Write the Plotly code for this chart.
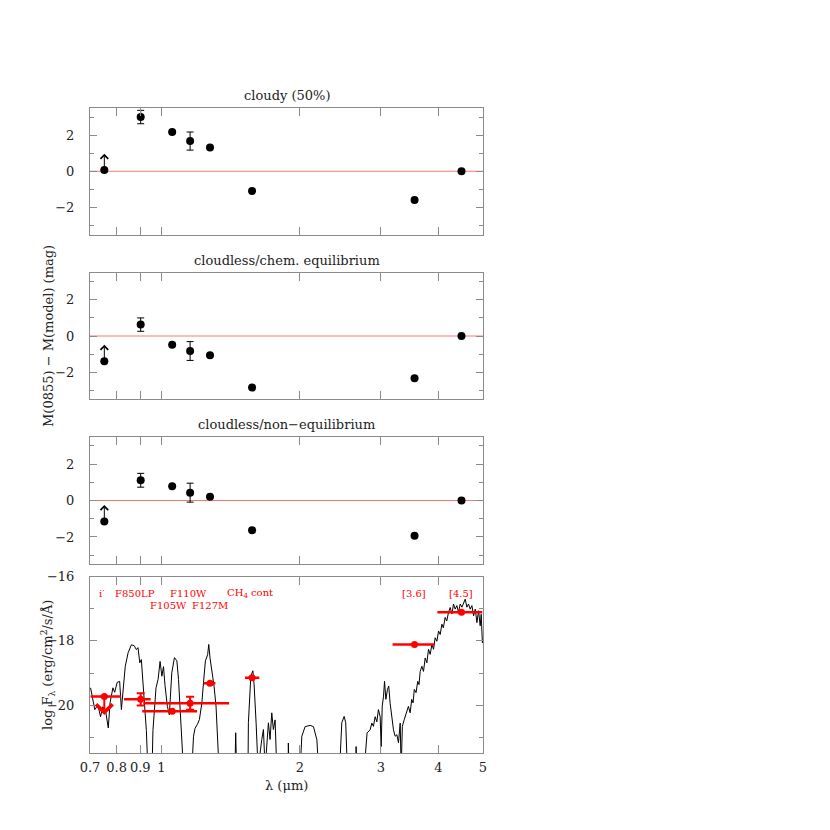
import numpy as np
import plotly.graph_objects as go

# photometric bands
bands = ["i'", "F850LP", "F105W", "F110W", "F127M", "CH4 cont", "[3.6]", "[4.5]"]
wave = [0.752, 0.902, 1.056, 1.155, 1.276, 1.575, 3.55, 4.49]
band_lo = [0.702, 0.830, 0.909, 0.914, 1.238, 1.520, 3.18, 3.98]
band_hi = [0.818, 0.948, 1.196, 1.404, 1.311, 1.633, 3.92, 4.98]

# M(0855) - M(model) residuals, first band is a limit
cloudy = [0.07, 3.00, 2.17, 1.67, 1.31, -1.09, -1.59, 0.0]
cloudy_err = [0, 0.37, 0, 0.50, 0, 0, 0, 0]
chem = [-1.39, 0.63, -0.48, -0.83, -1.06, -2.85, -2.33, 0.0]
chem_err = [0, 0.37, 0, 0.52, 0, 0, 0, 0]
noneq = [-1.15, 1.11, 0.78, 0.43, 0.20, -1.63, -1.93, 0.0]
noneq_err = [0, 0.38, 0, 0.52, 0, 0, 0, 0]

# observed fluxes (log erg/cm2/s/A)
obs_logf = [-19.73, -19.82, -20.19, -19.94, -19.32, -19.15, -18.11, -17.11]
obs_err = [0, 0.19, 0, 0.20, 0, 0, 0, 0]

# model spectrum
spec_wave = [0.702, 0.717, 0.728, 0.738, 0.746, 0.758, 0.767, 0.774, 0.785, 0.792,
             0.802, 0.812, 0.819, 0.827, 0.835, 0.847, 0.861, 0.873, 0.883, 0.890,
             0.898, 0.905, 0.913, 0.920, 0.928, 0.935, 0.955, 0.959, 0.967, 0.974,
             0.984, 0.994, 1.003, 1.011, 1.019, 1.031, 1.041, 1.054, 1.068, 1.081,
             1.090, 1.099, 1.108, 1.117, 1.165, 1.175, 1.184, 1.198, 1.210, 1.225,
             1.235, 1.247, 1.261, 1.268, 1.276, 1.287, 1.302, 1.315, 1.323, 1.335,
             1.446, 1.451, 1.457, 1.543, 1.546, 1.565, 1.581, 1.591, 1.607, 1.623,
             1.653, 1.667, 1.681, 1.709, 1.723, 1.738, 1.752, 1.767, 1.782, 1.886,
             1.888, 1.895, 2.003, 2.020, 2.053, 2.106, 2.141, 2.178, 2.196, 2.440,
             2.467, 2.496, 2.516, 2.536, 2.645, 2.650, 2.660, 2.760, 2.790, 2.800,
             2.843, 2.867, 2.890, 2.915, 2.940, 2.963, 2.989, 3.004, 3.020, 3.040,
             3.055, 3.076, 3.100, 3.120, 3.142, 3.168, 3.195, 3.222, 3.250, 3.276,
             3.304, 3.320, 3.340, 3.370, 3.400, 3.443, 3.473, 3.500, 3.524, 3.546,
             3.577, 3.607, 3.630, 3.652, 3.683, 3.713, 3.744, 3.776, 3.807, 3.839,
             3.872, 3.904, 3.936, 3.970, 4.003, 4.036, 4.070, 4.100, 4.138, 4.170,
             4.208, 4.243, 4.280, 4.314, 4.350, 4.387, 4.424, 4.461, 4.500, 4.536,
             4.574, 4.613, 4.651, 4.690, 4.730, 4.770, 4.810, 4.850, 4.890, 4.930,
             4.955, 4.985, 5.000]
spec_logf = [-19.46, -20.14, -20.00, -20.36, -20.05, -20.24, -20.71, -19.92, -19.46, -19.60,
             -19.29, -19.26, -20.14, -19.35, -18.79, -18.37, -18.12, -18.15, -18.27, -18.21,
             -18.68, -18.58, -19.46, -20.04, -20.79, -22.0, -22.0, -20.79, -19.89, -19.46,
             -19.20, -18.64, -19.10, -18.80, -19.40, -20.04, -20.30, -18.99, -18.52, -18.62,
             -19.20, -19.93, -20.76, -22.0, -22.0, -20.97, -20.72, -20.60, -20.45, -19.93,
             -19.30, -18.62, -18.43, -18.11, -18.53, -18.88, -19.41, -20.03, -20.65, -22.0,
             -22.0, -20.86, -22.0, -22.0, -20.55, -19.10, -18.93, -19.37, -20.56, -22.0,
             -21.07, -20.76, -22.0, -20.55, -21.07, -20.24, -20.76, -20.46, -22.0, -22.0,
             -21.18, -22.0, -22.0, -20.97, -20.67, -20.63, -20.67, -21.08, -22.0, -22.0,
             -20.55, -20.35, -20.55, -22.0, -22.0, -21.29, -22.0, -22.0, -20.97, -20.86,
             -20.77, -20.56, -20.66, -20.36, -20.52, -20.14, -20.36, -21.29, -20.03, -19.72,
             -19.26, -19.82, -19.51, -19.41, -19.94, -20.45, -20.77, -20.97, -20.92, -21.17,
             -20.56, -22.0, -20.66, -20.46, -20.25, -20.04, -20.24, -19.82, -19.93, -19.51,
             -19.61, -19.26, -19.36, -18.95, -18.79, -18.95, -18.53, -18.68, -18.26, -18.42,
             -18.11, -18.26, -17.90, -18.01, -17.69, -17.80, -17.48, -17.59, -17.27, -17.38,
             -17.11, -16.96, -17.16, -16.85, -17.01, -16.90, -17.11, -16.85, -16.95, -16.80,
             -16.70, -16.95, -16.85, -17.01, -16.90, -17.22, -17.01, -17.43, -17.06, -17.53,
             -17.17, -18.06, -18.00]

panel_titles = ["cloudy (50%)", "cloudless/chem. equilibrium", "cloudless/non\u2212equilibrium"]
xtick_vals = [0.7, 0.8, 0.9, 1, 2, 3, 4, 5]
xtick_text = ["0.7", "0.8", "0.9", "1", "2", "3", "4", "5"]

W = H = 830
PAD = 8  # page body margin
FONT = "DejaVu Serif"
FRAME = "#8a8a8a"
RED = "#ff0000"
ZERO = "#f47a7a"

# pixel boxes of the four panels (top, bottom)
x0, x1 = 90, 483
boxes = [(108, 234.5), (272.7, 399.3), (436.7, 564.3), (576.7, 753.3)]


def px(v):
    return (v - PAD) / W


def py(v):
    return 1 - (v - PAD) / H


def label(txt, lx, ly, **kw):
    return dict(x=px(lx), y=py(ly), xref="paper", yref="paper", text=txt,
                showarrow=False, xanchor="center", yanchor="middle", **kw)


fig = go.Figure()

axis_common = dict(
    showline=True, mirror="allticks", linecolor=FRAME, linewidth=1,
    ticks="inside", tickcolor=FRAME, showgrid=False, zeroline=False,
    automargin=False,
    tickfont=dict(family=FONT, size=13, color="#222222"),
)

layout = dict(
    width=W, height=H, margin=dict(l=0, r=0, t=0, b=0, autoexpand=False),
    paper_bgcolor="white", plot_bgcolor="white", showlegend=False,
    font=dict(family=FONT, size=13, color="#222222"),
)

for i, (top, bot) in enumerate(boxes):
    n = "" if i == 0 else str(i + 1)
    last = i == 3
    layout["xaxis" + n] = dict(
        axis_common, type="log", range=[np.log10(0.7), np.log10(5)],
        domain=[px(x0), px(x1)], anchor="y" + n,
        tickvals=xtick_vals, ticktext=xtick_text, ticklen=8,
        showticklabels=last, ticklabelstandoff=2,
    )
    if last:
        yrange, tick0 = [-21.5, -16], -16
    else:
        yrange, tick0 = [-3.5, 3.5], 0
    layout["yaxis" + n] = dict(
        axis_common, range=yrange, domain=[py(bot), py(top)], anchor="x" + n,
        tick0=tick0, dtick=2, ticklen=7, ticklabelstandoff=12,
        minor=dict(dtick=1, ticks="inside", ticklen=4, tickcolor=FRAME),
    )

fig.update_layout(**layout)

# residual panels
annotations = []
for i, (vals, errs) in enumerate([(cloudy, cloudy_err), (chem, chem_err), (noneq, noneq_err)]):
    n = "" if i == 0 else str(i + 1)
    fig.add_shape(type="line", xref="x" + n + " domain", yref="y" + n,
                  x0=0, x1=1, y0=0, y1=0, line=dict(color=ZERO, width=1), layer="below")
    fig.add_trace(go.Scatter(
        x=wave, y=vals, mode="markers", xaxis="x" + n, yaxis="y" + n,
        marker=dict(color="black", size=8),
        error_y=dict(type="data", array=errs, color="black", thickness=1, width=3.5),
    ))
    # lower limit on first band
    annotations.append(dict(
        x=np.log10(wave[0]), y=vals[0] + 0.9, ax=np.log10(wave[0]), ay=vals[0],
        xref="x" + n, yref="y" + n, axref="x" + n, ayref="y" + n,
        showarrow=True, arrowhead=4, arrowsize=1.5, arrowwidth=1, arrowcolor="black", text="",
    ))
    annotations.append(label(panel_titles[i], (x0 + x1) / 2, [96, 260, 425][i],
                             font=dict(size=13)))

# spectrum panel
fig.add_trace(go.Scatter(
    x=spec_wave, y=spec_logf, mode="lines", xaxis="x4", yaxis="y4",
    line=dict(color="black", width=1),
))
fig.add_trace(go.Scatter(
    x=wave, y=obs_logf, mode="markers", xaxis="x4", yaxis="y4",
    marker=dict(color=RED, size=7),
    error_x=dict(type="data", symmetric=False,
                 array=[h - w for h, w in zip(band_hi, wave)],
                 arrayminus=[w - l for w, l in zip(wave, band_lo)],
                 color=RED, thickness=2.5, width=0),
    error_y=dict(type="data", array=obs_err, color=RED, thickness=2, width=4),
))
# upper limit on the i' flux
annotations.append(dict(
    x=np.log10(wave[0]), y=obs_logf[0] - 0.58, ax=np.log10(wave[0]), ay=obs_logf[0],
    xref="x4", yref="y4", axref="x4", ayref="y4",
    showarrow=True, arrowhead=4, arrowsize=1.6, arrowwidth=2, arrowcolor=RED, text="",
))

# band labels
band_labels = [("i\u2032", 102, 593), ("F850LP", 135, 593), ("F110W", 188, 593),
               ("CH<sub>4</sub> cont", 250, 593), ("F105W", 168, 605), ("F127M", 210, 605),
               ("[3.6]", 414, 593), ("[4.5]", 461, 593)]
for txt, lx, ly in band_labels:
    annotations.append(label(txt, lx, ly, font=dict(size=10, color=RED)))

annotations.append(label("\u03bb (\u03bcm)", (x0 + x1) / 2, 785, font=dict(size=13)))
annotations.append(label("M(0855) \u2212 M(model) (mag)", 48, 336, textangle=-90,
                         font=dict(size=13)))
annotations.append(label("log F<sub>\u03bb</sub> (erg/cm<sup>2</sup>/s/\u00c5)", 48, 665,
                         textangle=-90, font=dict(size=13)))

fig.update_layout(annotations=annotations)

fig.write_html("out.html")
